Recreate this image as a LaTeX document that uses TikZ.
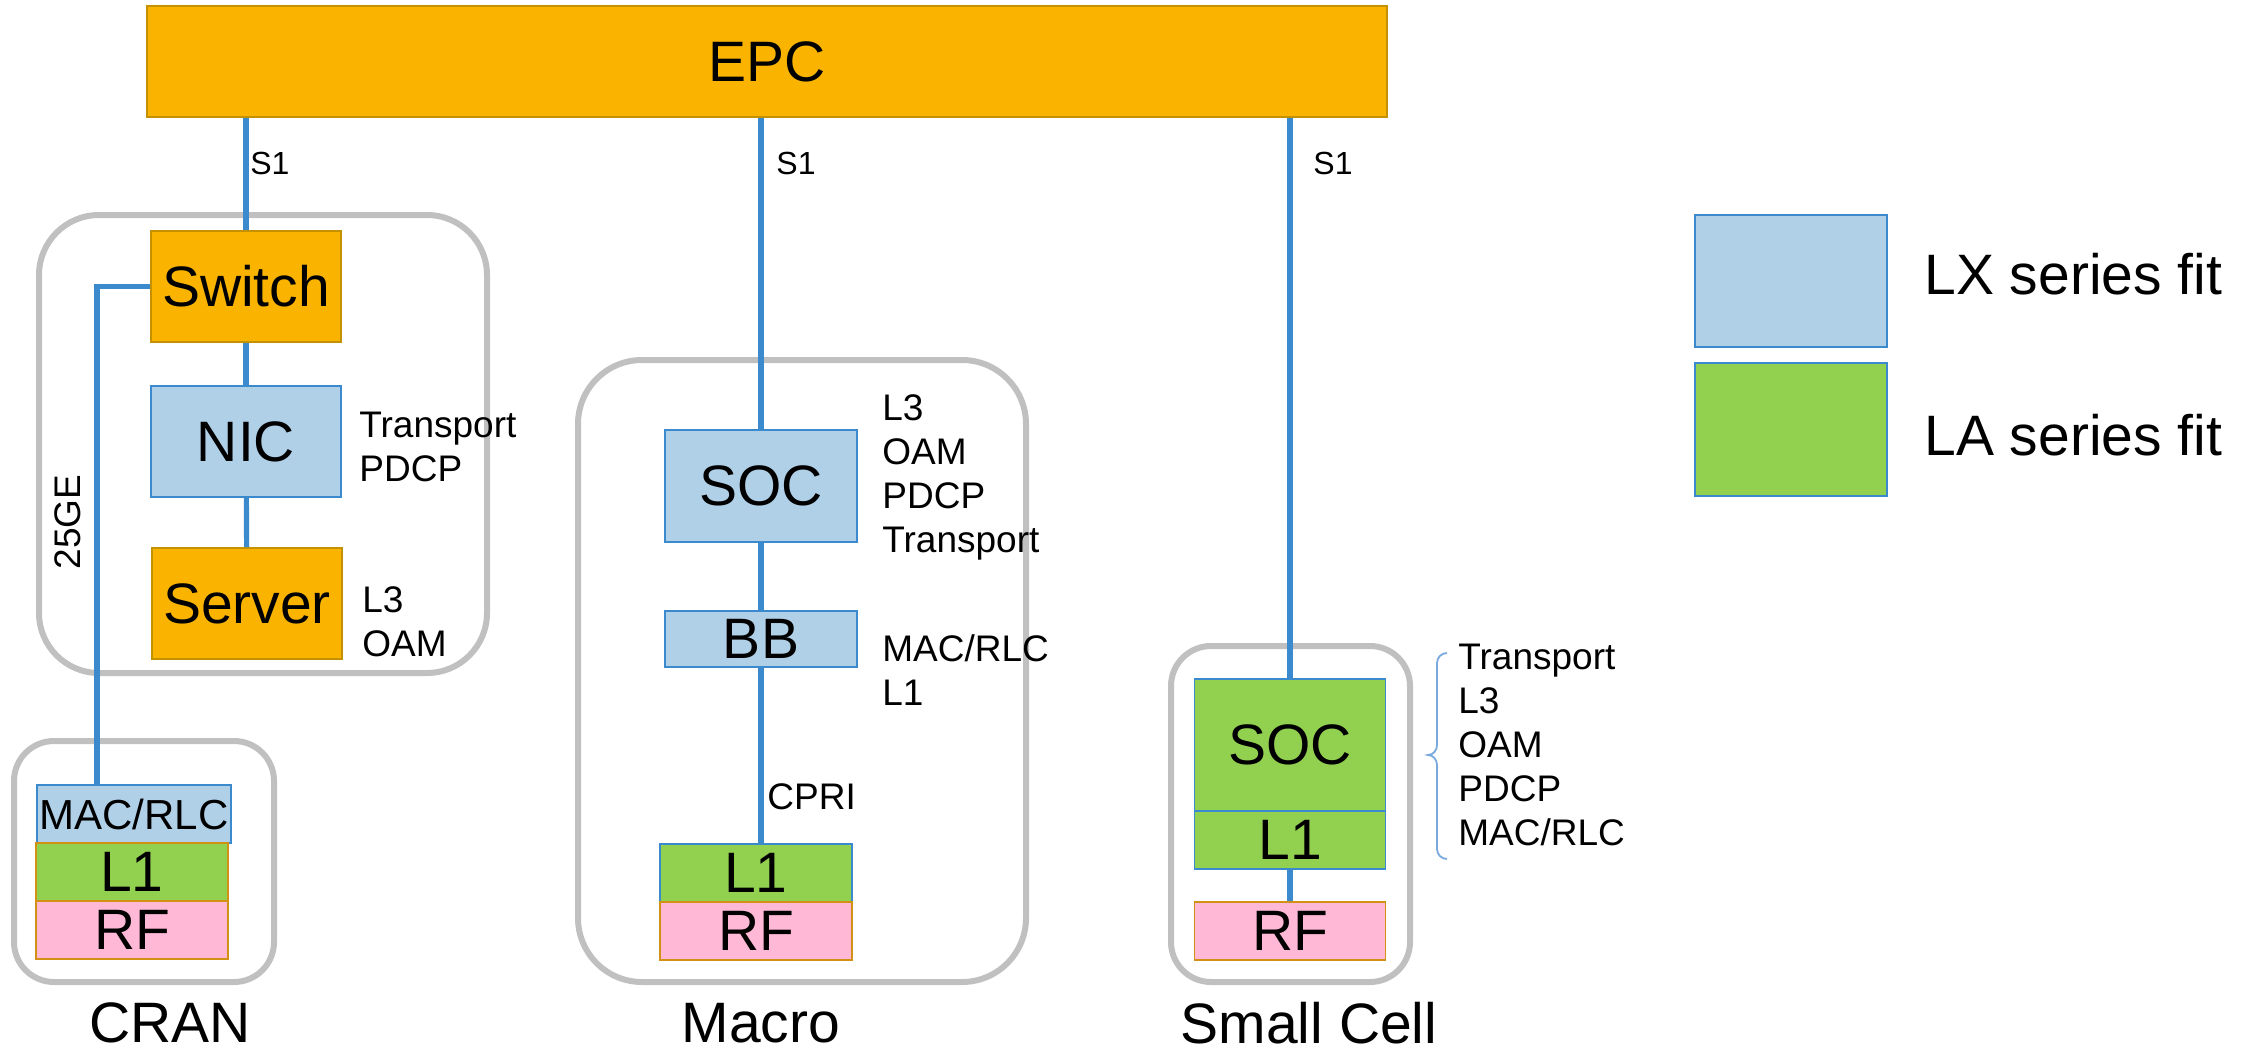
\documentclass[tikz,border=0pt]{standalone}
\usepackage{fontspec}
\setmainfont{Liberation Sans}

\definecolor{epcorange}{RGB}{250,180,0}
\definecolor{goldline}{RGB}{196,146,0}
\definecolor{lxblue}{RGB}{176,208,232}
\definecolor{linkblue}{RGB}{60,138,206}
\definecolor{bracelight}{RGB}{120,170,222}
\definecolor{lagreen}{RGB}{146,208,80}
\definecolor{rfpink}{RGB}{255,185,215}
\definecolor{rfedge}{RGB}{210,145,20}
\definecolor{framegray}{RGB}{192,192,192}

\newcommand{\boxfont}{\fontsize{28.5}{34}\selectfont}
\newcommand{\notefont}{\fontsize{18.5}{22}\selectfont}
\newcommand{\linkfont}{\fontsize{16}{19}\selectfont}
\newcommand{\macfont}{\fontsize{21}{25}\selectfont}

\begin{document}
\begin{tikzpicture}[x=0.5pt, y=-0.5pt,
  unit/.style={draw, inner sep=0pt, font=\boxfont, line width=0.8pt},
  core/.style={unit, fill=epcorange, draw=goldline},
  lx/.style={unit, fill=lxblue, draw=linkblue},
  la/.style={unit, fill=lagreen, draw=linkblue},
  rf/.style={unit, fill=rfpink, draw=rfedge},
  link/.style={draw=linkblue, line width=2.6pt},
  frame/.style={draw=framegray, line width=3pt, rounded corners=#1},
  note/.style={anchor=west, inner sep=0pt, align=left, font=\notefont}]
  \useasboundingbox (0,0) rectangle (2260,1054);

  % frames
  \draw[frame=30pt] (39,215) rectangle (487,673);
  \draw[frame=20pt] (14,741) rectangle (274,982);
  \draw[frame=32pt] (578,360) rectangle (1026,982);
  \draw[frame=20pt] (1171,646) rectangle (1410,982);

  \node[core, minimum width=620pt, minimum height=55.5pt] (EPC) at (767,61.5) {EPC};

  % CRAN
  \node[core, minimum width=95pt, minimum height=55.5pt] (switch) at (246,286.5) {Switch};
  \node[lx, minimum width=95pt, minimum height=55.5pt] (nic) at (246,441.5) {NIC};
  \node[core, minimum width=95pt, minimum height=55.5pt] (server) at (247,603.5) {Server};
  \node[lx, font=\macfont, minimum width=97pt, minimum height=29pt] (crmac) at (134,814) {MAC/RLC};
  \node[la, draw=rfedge, minimum width=96pt, minimum height=29pt] (crl1) at (132,872) {L1};
  \node[rf, minimum width=96pt, minimum height=29pt] (crrf) at (132,930) {RF};
  \coordinate (ge) at (97,785);
  \draw[link] (EPC.south -| switch) -- (switch);
  \draw[link] (switch) -- (nic);
  \draw[link] (nic) -- (server);
  \draw[link] (switch.west) -| (ge);
  \node[note] (nicnote) at (359,447) {Transport\\PDCP};
  \node[note] (servernote) at (362,622) {L3\\OAM};
  \node[font=\notefont, rotate=90, inner sep=0pt] (gelabel) at (68,522) {25GE};
  \node[font=\linkfont, anchor=west, inner sep=0pt] (s1a) at (250,163) {S1};
  \node[font=\boxfont] (cran) at (170,1023) {CRAN};

  % Macro
  \node[lx, minimum width=96pt, minimum height=56pt] (msoc) at (761,486) {SOC};
  \node[lx, minimum width=96pt, minimum height=28pt] (mbb) at (761,639) {BB};
  \node[la, minimum width=96pt, minimum height=29pt] (ml1) at (756,873) {L1};
  \node[rf, minimum width=96pt, minimum height=29pt] (mrf) at (756,931) {RF};
  \draw[link] (EPC.south -| msoc) -- (msoc);
  \draw[link] (msoc) -- (mbb);
  \draw[link] (mbb.south) -- (mbb.south |- ml1.north);
  \node[note] (msocnote) at (882,477) {L3\\OAM\\PDCP\\Transport};
  \node[note] (mbbnote) at (882,670) {MAC/RLC\\L1};
  \node[note] (cpri) at (767,797) {CPRI};
  \node[font=\linkfont, anchor=west, inner sep=0pt] (s1b) at (776,163) {S1};
  \node[font=\boxfont] (macro) at (761,1023) {Macro};

  % Small Cell
  \node[la, minimum width=95.5pt, minimum height=66pt] (ssoc) at (1290,745) {SOC};
  \node[la, minimum width=95.5pt, minimum height=29pt] (sl1) at (1290,840) {L1};
  \node[rf, minimum width=95.5pt, minimum height=29pt] (srf) at (1290,931) {RF};
  \draw[link] (EPC.south -| ssoc) -- (ssoc);
  \draw[link] (sl1) -- (srf);
  \node[note] (ssocnote) at (1458,745) {Transport\\L3\\OAM\\PDCP\\MAC/RLC};
  \draw[bracelight, line width=0.9pt] (1447,653) to[out=180,in=90] (1437,663) -- (1437,745)
    to[out=-90,in=0] (1428,755) to[out=0,in=90] (1437,765) -- (1437,849)
    to[out=-90,in=180] (1447,859);
  \node[font=\linkfont, anchor=west, inner sep=0pt] (s1c) at (1313,163) {S1};
  \node[font=\boxfont] (small) at (1309,1023) {Small Cell};

  % legend
  \node[lx, minimum width=96pt, minimum height=66pt] (lxkey) at (1791,281) {};
  \node[la, minimum width=96pt, minimum height=66.5pt] (lakey) at (1791,429.5) {};
  \node[font=\boxfont, anchor=west, inner sep=0pt] (lxtext) at (1924,274) {LX series fit};
  \node[font=\boxfont, anchor=west, inner sep=0pt] (latext) at (1924,435) {LA series fit};
\end{tikzpicture}
\end{document}
